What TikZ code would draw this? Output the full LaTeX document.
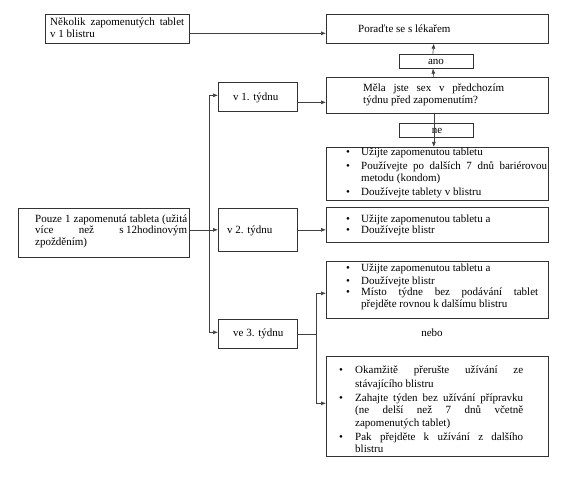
\documentclass[tikz,border=0pt]{standalone}
\usepackage{fontspec}
\setmainfont{Liberation Serif}
\usetikzlibrary{arrows.meta}
\tikzset{
  box/.style={draw=black!80, line width=0.65pt, inner sep=0pt, anchor=north west},
  txt/.style={anchor=base west, inner sep=0pt},
  ctxt/.style={anchor=base, inner sep=0pt},
  bul/.style={anchor=base, inner sep=0pt},
  link/.style={draw=black!75, line width=0.65pt},
  arr/.style={link, -{Latex[length=5pt,width=4pt]}}
}
\newcommand{\jl}[2]{\makebox[#1pt][s]{#2}}
\begin{document}
\begin{tikzpicture}[x=1pt,y=-1pt,font=\fontsize{11}{13}\selectfont]
\useasboundingbox (0,0) rectangle (585,481);

% boxes
\node[box, minimum width=144pt, minimum height=29pt] (a) at (45,14) {};
\node[box, minimum width=222pt, minimum height=29pt] (b) at (326,14) {};
\node[box, minimum width=74pt, minimum height=14pt] (ano) at (399,54) {};
\node[box, minimum width=222pt, minimum height=36pt] (c) at (326,77) {};
\node[box, minimum width=74pt, minimum height=14pt] (ne) at (399,123) {};
\node[box, minimum width=222pt, minimum height=53pt] (d) at (326,147) {};
\node[box, minimum width=79pt, minimum height=29pt] (e) at (218,82) {};
\node[box, minimum width=171pt, minimum height=49pt] (f) at (18,208) {};
\node[box, minimum width=79pt, minimum height=43pt] (g) at (218,208) {};
\node[box, minimum width=222pt, minimum height=35pt] (h) at (326,207) {};
\node[box, minimum width=79pt, minimum height=29pt] (i) at (218,319) {};
\node[box, minimum width=222pt, minimum height=57pt] (jb) at (326,261) {};
\node[box, minimum width=222pt, minimum height=100pt] (kb) at (326,356) {};

% texts
\node[txt] (ta1) at (50,26) {\jl{134}{Několik zapomenutých tablet}};
\node[txt] (ta2) at (50,37.5) {v 1 blistru};
\node[txt] (tb) at (358,32.5) {Poraďte se s lékařem};
\node[ctxt] (tano) at (436,64.5) {ano};
\node[txt] (tc1) at (363,92) {\jl{141}{Měla jste sex v předchozím}};
\node[txt] (tc2) at (363,103.5) {týdnu před zapomenutím?};
\node[ctxt] (tne) at (437,133.5) {ne};

\node[bul] (bd1) at (348,156) {\textbullet};
\node[txt] (td1) at (361,156) {Užijte zapomenutou tabletu};
\node[bul] (bd2) at (348,169.5) {\textbullet};
\node[txt] (td2) at (361,169.5) {\jl{186}{Používejte po dalších 7 dnů bariérovou}};
\node[txt] (td3) at (361,181.5) {metodu (kondom)};
\node[bul] (bd4) at (348,195) {\textbullet};
\node[txt] (td4) at (361,195) {Doužívejte tablety v blistru};

\node[txt] (te) at (233,100.5) {v 1. týdnu};

\node[txt] (tf1) at (35,222) {\jl{152}{Pouze 1 zapomenutá tableta (užitá}};
\node[txt] (tf2) at (35,233.5) {\jl{152}{více než s\hspace{2.5pt}12hodinovým}};
\node[txt] (tf3) at (35,245) {zpožděním)};

\node[txt] (tg) at (227,233.5) {v 2. týdnu};

\node[bul] (bh1) at (348,222) {\textbullet};
\node[txt] (th1) at (361,222) {Užijte zapomenutou tabletu a};
\node[bul] (bh2) at (348,233.5) {\textbullet};
\node[txt] (th2) at (361,233.5) {Doužívejte blistr};

\node[txt] (ti) at (233,336.5) {ve 3. týdnu};

\node[bul] (bj1) at (348,271) {\textbullet};
\node[txt] (tj1) at (361,271) {Užijte zapomenutou tabletu a};
\node[bul] (bj2) at (348,284) {\textbullet};
\node[txt] (tj2) at (361,284) {Doužívejte blistr};
\node[bul] (bj3) at (348,295.5) {\textbullet};
\node[txt] (tj3) at (361,295.5) {\jl{177}{Místo týdne bez podávání tablet}};
\node[txt] (tj4) at (361,307) {přejděte rovnou k dalšímu blistru};

\node[ctxt] (nebo) at (432,336.5) {nebo};

\node[bul] (bk1) at (341,373.5) {\textbullet};
\node[txt] (tk1) at (355,373.5) {\jl{168}{Okamžitě přerušte užívání ze}};
\node[txt] (tk2) at (355,387) {stávajícího blistru};
\node[bul] (bk3) at (341,401) {\textbullet};
\node[txt] (tk3) at (355,401) {\jl{168}{Zahajte týden bez užívání přípravku}};
\node[txt] (tk4) at (355,413.5) {\jl{168}{(ne delší než 7 dnů včetně}};
\node[txt] (tk5) at (355,426) {zapomenutých tablet)};
\node[bul] (bk6) at (341,440) {\textbullet};
\node[txt] (tk6) at (355,440) {\jl{168}{Pak přejděte k užívání z dalšího}};
\node[txt] (tk7) at (355,452) {blistru};

% connectors
\draw[arr] ([yshift=-4.5pt]a.east) -- ([yshift=-4.5pt]b.west);
\draw[arr] ([xshift=-3.5pt]c.north) -- ([xshift=-3.5pt]ano.south);
\draw[arr] ([xshift=-3.5pt]ano.north) -- ([xshift=-3.5pt]b.south);
\draw[arr] ([xshift=-3.5pt]c.south) -- ([xshift=-3.5pt]d.north);
\coordinate (e1) at ([yshift=-5.5pt]e.east);
\draw[arr] (e1) -- (c.west |- e1);
\draw[arr] (f.east |- g.west) -- (g.west);
\path (g.west) ++(-9,0) coordinate (j1);
\draw[arr] (j1) |- ([yshift=1.5pt]e.west);
\draw[arr] (j1) |- ([yshift=1.5pt]i.west);
\draw[arr] (g.east) -- (h.west |- g.east);
\path (i.east) ++(19,0) coordinate (j2);
\draw[link] (i.east) -- (j2);
\draw[arr] (j2) |- ([yshift=-3.5pt]jb.west);
\draw[arr] (j2) |- ([yshift=3pt]kb.west);
\end{tikzpicture}
\end{document}
